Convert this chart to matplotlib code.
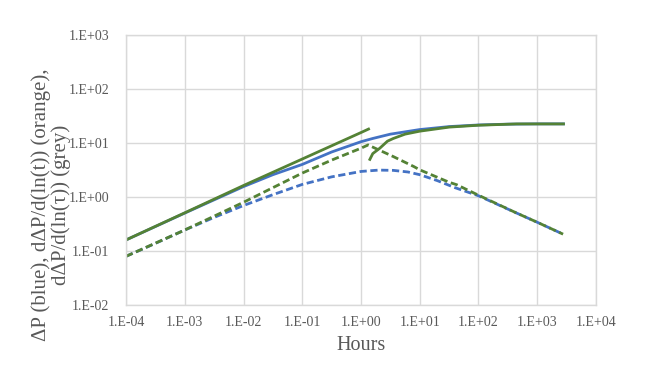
import numpy as np
import matplotlib
matplotlib.use('Agg')
import matplotlib.pyplot as plt
from matplotlib.ticker import FixedLocator, FuncFormatter, NullLocator

plt.rcParams['font.family'] = ['Liberation Serif', 'DejaVu Serif']

# data (log10 of hours, log10 of value)
dp_logt = [-4, -3, -2, -1.5, -1, -0.5, 0, 0.2, 0.5, 1.0, 1.5, 2.0, 2.5, 3.0, 3.47]
dp_logv = [-0.797, -0.30, 0.19, 0.41, 0.60, 0.83, 1.02, 1.08, 1.16, 1.245, 1.30, 1.33, 1.345, 1.35, 1.35]

dpd_logt = [-4, -3.5, -3, -2.5, -2, -1.5, -1, -0.5, 0, 0.3, 0.55, 0.8, 1.0, 1.3, 1.6, 2.0, 2.65, 3.0, 3.44]
dpd_logv = [-1.10, -0.86, -0.613, -0.38, -0.16, 0.04, 0.23, 0.37, 0.47, 0.495, 0.49, 0.46, 0.41, 0.30, 0.17, 0.02, -0.30, -0.47, -0.69]

gd_logt = [-4, -3, -2, -1, -0.5, 0, 0.12, 0.3, 0.55, 0.9, 1.0, 1.5, 1.63, 2.0, 2.65, 3.0, 3.44]
gd_logv = [-1.10, -0.613, -0.10, 0.44, 0.68, 0.90, 0.96, 0.87, 0.745, 0.56, 0.50, 0.27, 0.224, 0.03, -0.30, -0.47, -0.69]

g1_logt = [-4, -3, -2, -1, 0, 0.15]
g1_logv = [-0.797, -0.295, 0.21, 0.70, 1.19, 1.265]

g2_logt = [0.14, 0.2, 0.32, 0.45, 0.55, 0.75, 1.0, 1.5, 2.0, 2.65, 3.47]
g2_logv = [0.67, 0.80, 0.90, 1.03, 1.08, 1.16, 1.215, 1.29, 1.325, 1.349, 1.349]

blue = '#4472C4'
green = '#548235'
grid = '#D9D9D9'
txt = '#595959'

def p(a):
    return 10 ** np.array(a)

fig = plt.figure(figsize=(6.54, 3.67), dpi=100)
ax = fig.add_axes([0.1927, 0.169, 0.7186, 0.7365])
ax.set_xscale('log')
ax.set_yscale('log')

dash = (0, (2.6, 1.3))
ax.plot(p(dp_logt), p(dp_logv), color=blue, lw=2.0, solid_capstyle='butt')
ax.plot(p(dpd_logt), p(dpd_logv), color=blue, lw=2.0, linestyle=dash)
ax.plot(p(gd_logt), p(gd_logv), color=green, lw=2.0, linestyle=dash)
ax.plot(p(g1_logt), p(g1_logv), color=green, lw=2.0, solid_capstyle='butt')
ax.plot(p(g2_logt), p(g2_logv), color=green, lw=2.0, solid_capstyle='butt')

ax.set_xlim(1e-4, 1e4)
ax.set_ylim(1e-2, 1e3)
ax.xaxis.set_major_locator(FixedLocator([10.0 ** k for k in range(-4, 5)]))
ax.yaxis.set_major_locator(FixedLocator([10.0 ** k for k in range(-2, 4)]))
ax.xaxis.set_minor_locator(NullLocator())
ax.yaxis.set_minor_locator(NullLocator())
fmt = FuncFormatter(lambda v, pos: '1.E%+03d' % int(round(np.log10(v))))
ax.xaxis.set_major_formatter(fmt)
ax.yaxis.set_major_formatter(fmt)

ax.grid(True, color=grid, lw=1.0)
ax.set_axisbelow(True)
for s in ax.spines.values():
    s.set_color(grid)
    s.set_linewidth(1.0)
ax.tick_params(length=0, labelsize=10, labelcolor=txt)
ax.tick_params(axis='x', pad=8)
ax.tick_params(axis='y', pad=12)

ax.set_xlabel('Hours', fontsize=14.5, color=txt, labelpad=5)
ax.set_ylabel('\u0394P (blue), d\u0394P/d(ln(t)) (orange),\nd\u0394P/d(ln(\u03c4)) (grey)',
              fontsize=15, color=txt, va='center', ha='center', multialignment='center',
              linespacing=1.0)
ax.yaxis.set_label_coords(-0.160, 0.372)

fig.savefig('out.png', dpi=100)
